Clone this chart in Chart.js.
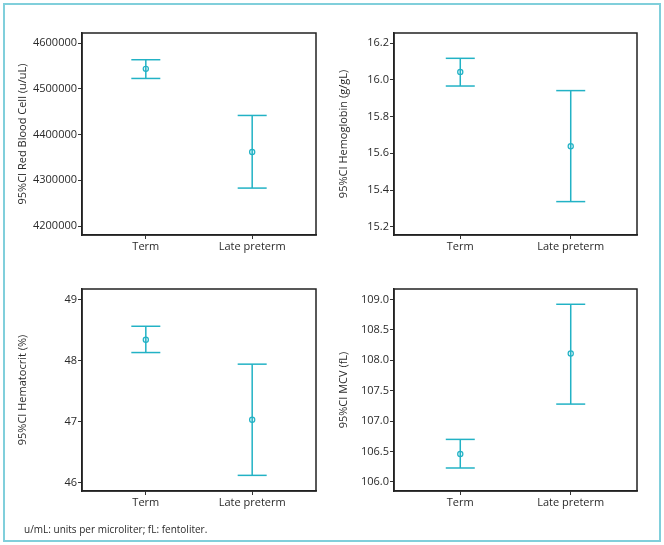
<!DOCTYPE html>
<html lang="en">
  <head>
    <meta charset="UTF-8" />
    <title>95%CI by gestational group</title>
    <script src="https://cdn.jsdelivr.net/npm/chart.js"></script>
    <style>
      body { margin: 0; background: #fff; }
      #page { position: relative; width: 664px; height: 545px; overflow: hidden; }
      #frame {
        position: absolute; left: 3px; top: 3px; width: 654px; height: 535px;
        border: 2px solid #80cfdb;
      }
      .panel { position: absolute; }
      #note {
        position: absolute; left: 24px; top: 522px;
        font: 10px "Open Sans", sans-serif; color: #2a2a2a;
      }
    </style>
  </head>
  <body>
    <div id="page">
      <div id="frame"></div>
      <canvas class="panel" id="c1" width="332" height="268" style="left:0;top:0"></canvas>
      <canvas class="panel" id="c2" width="332" height="268" style="left:332px;top:0"></canvas>
      <canvas class="panel" id="c3" width="332" height="277" style="left:0;top:268px"></canvas>
      <canvas class="panel" id="c4" width="332" height="277" style="left:332px;top:268px"></canvas>
      <div id="note">u/mL: units per microliter; fL: fentoliter.</div>
    </div>

    <script>
      // categories on the x axis
      const categories = ["Term", "Late preterm"];

      // red blood cell (u/uL)
      const rbcMean = [4544000, 4362000];
      const rbcLow = [4523000, 4283000];
      const rbcHigh = [4564000, 4442000];
      const rbcTicks = [4200000, 4300000, 4400000, 4500000, 4600000];

      // hemoglobin (g/gL)
      const hbMean = [16.044, 15.639];
      const hbLow = [15.967, 15.337];
      const hbHigh = [16.118, 15.942];
      const hbTicks = [15.2, 15.4, 15.6, 15.8, 16.0, 16.2];

      // hematocrit (%)
      const hctMean = [48.34, 47.03];
      const hctLow = [48.13, 46.12];
      const hctHigh = [48.56, 47.94];
      const hctTicks = [46, 47, 48, 49];

      // MCV (fL)
      const mcvMean = [106.46, 108.11];
      const mcvLow = [106.23, 107.28];
      const mcvHigh = [106.70, 108.92];
      const mcvTicks = [106.0, 106.5, 107.0, 107.5, 108.0, 108.5, 109.0];

      const teal = "#22b2c5";
      const font = "'Open Sans', sans-serif";
      const ink = "#2a2a2a";

      // draws the box round the plot area
      const boxPlugin = {
        id: "box",
        afterDraw(chart) {
          const a = chart.chartArea;
          const ctx = chart.ctx;
          ctx.save();
          ctx.strokeStyle = "#222";
          ctx.lineWidth = 1.5;
          ctx.strokeRect(a.left, a.top, a.right - a.left, a.bottom - a.top);
          ctx.restore();
        },
      };

      function ciChart(id, cfg) {
        const whisker = [];
        const caps = [];
        const points = [];
        categories.forEach((c, i) => {
          whisker.push({ x: i + 1, y: cfg.low[i] });
          whisker.push({ x: i + 1, y: cfg.high[i] });
          whisker.push({ x: i + 1, y: null });
          caps.push({ x: i + 1, y: cfg.low[i] });
          caps.push({ x: i + 1, y: cfg.high[i] });
          points.push({ x: i + 1, y: cfg.mean[i] });
        });

        return new Chart(document.getElementById(id), {
          type: "scatter",
          data: {
            datasets: [
              {
                data: whisker,
                showLine: true,
                spanGaps: false,
                borderColor: teal,
                borderWidth: 1.5,
                pointRadius: 0,
              },
              {
                data: caps,
                pointStyle: "line",
                pointRadius: 14.5,
                pointBorderWidth: 1.5,
                borderColor: teal,
              },
              {
                data: points,
                pointStyle: "circle",
                pointRadius: 2.6,
                pointBorderWidth: 1.2,
                borderColor: teal,
                backgroundColor: "#e6f7fa",
              },
            ],
          },
          options: {
            responsive: false,
            animation: false,
            events: [],
            layout: { padding: cfg.pad },
            plugins: { legend: { display: false }, tooltip: { enabled: false } },
            scales: {
              x: {
                type: "linear",
                min: 0.4,
                max: 2.6,
                afterBuildTicks: (s) => {
                  s.ticks = categories.map((c, i) => ({ value: i + 1 }));
                },
                afterFit: (s) => { s.height = cfg.xh; },
                ticks: {
                  callback: (v) => categories[v - 1] || "",
                  color: ink,
                  font: { family: font, size: 11 },
                  padding: 1,
                  maxRotation: 0,
                },
                grid: { drawOnChartArea: false, tickLength: 4, color: "#333" },
                border: { color: "#222", width: 1.5 },
              },
              y: {
                min: cfg.min,
                max: cfg.max,
                afterBuildTicks: (s) => {
                  s.ticks = cfg.ticks.map((v) => ({ value: v }));
                },
                afterFit: (s) => { s.width = cfg.yw; },
                ticks: {
                  callback: (v) => v.toFixed(cfg.dec),
                  color: ink,
                  font: { family: font, size: 11 },
                  padding: 1,
                },
                grid: { drawOnChartArea: false, tickLength: 4, color: "#333" },
                border: { color: "#222", width: 1.5 },
                title: {
                  display: true,
                  text: cfg.title,
                  color: ink,
                  font: { family: font, size: 11 },
                  padding: 0,
                },
              },
            },
          },
          plugins: [boxPlugin],
        });
      }

      ciChart("c1", {
        mean: rbcMean, low: rbcLow, high: rbcHigh, ticks: rbcTicks,
        min: 4180300, max: 4622500, dec: 0,
        title: "95%CI Red Blood Cell (u/uL)",
        pad: { left: 16, top: 33, right: 6, bottom: 0 }, yw: 66, xh: 33,
      });
      ciChart("c2", {
        mean: hbMean, low: hbLow, high: hbHigh, ticks: hbTicks,
        min: 15.155, max: 16.256, dec: 1,
        title: "95%CI Hemoglobin (g/gL)",
        pad: { left: 5, top: 33, right: 27, bottom: 0 }, yw: 57, xh: 33,
      });
      ciChart("c3", {
        mean: hctMean, low: hctLow, high: hctHigh, ticks: hctTicks,
        min: 45.864, max: 49.17, dec: 0,
        title: "95%CI Hematocrit (%)",
        pad: { left: 16, top: 21, right: 6, bottom: 0 }, yw: 66, xh: 54,
      });
      ciChart("c4", {
        mean: mcvMean, low: mcvLow, high: mcvHigh, ticks: mcvTicks,
        min: 105.852, max: 109.171, dec: 1,
        title: "95%CI MCV (fL)",
        pad: { left: 5, top: 21, right: 27, bottom: 0 }, yw: 57, xh: 54,
      });
    </script>
  </body>
</html>
